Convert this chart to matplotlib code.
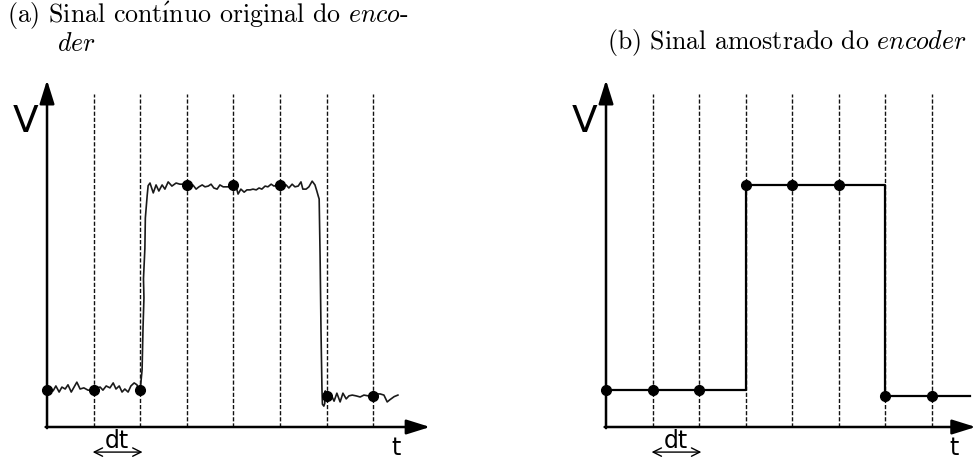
import matplotlib.pyplot as plt

plt.rcParams['mathtext.fontset'] = 'cm'

# sampling instants (in units of dt) and the sampled encoder levels
t_samples = [0, 1, 2, 3, 4, 5, 6, 7]
v_samples = [0.98, 0.98, 0.98, 6.36, 6.36, 6.36, 0.82, 0.82]
t_end = 7.83

# continuous (noisy) encoder signal
t_cont = [0.00, 0.06, 0.13, 0.19, 0.26, 0.32, 0.39, 0.45, 0.52, 0.58, 0.64, 0.71, 0.79, 0.88, 0.94, 1.00,
          1.07, 1.14, 1.20, 1.27, 1.35, 1.42, 1.48, 1.55, 1.61, 1.67, 1.74, 1.80, 1.87, 1.93, 1.97, 2.00,
          2.04, 2.06, 2.08, 2.07, 2.10, 2.11, 2.13, 2.15, 2.17, 2.21,
          2.28, 2.34, 2.40, 2.47, 2.53, 2.60, 2.68, 2.77, 2.85, 2.94, 3.00,
          3.07, 3.13, 3.20, 3.26, 3.33, 3.39, 3.46, 3.52, 3.58, 3.65, 3.71, 3.78, 3.84, 3.91, 4.00,
          4.06, 4.10, 4.16, 4.23, 4.29, 4.36, 4.42, 4.49, 4.55, 4.61, 4.68, 4.74, 4.81, 4.87, 4.94, 5.00,
          5.06, 5.13, 5.19, 5.26, 5.32, 5.39, 5.45, 5.49, 5.56, 5.62, 5.69, 5.75, 5.79, 5.82,
          5.84, 5.86, 5.88, 5.90, 5.91, 5.94, 5.96, 5.97, 6.00,
          6.09, 6.16, 6.22, 6.29, 6.35, 6.42, 6.48, 6.55, 6.63, 6.72, 6.80, 6.89, 7.00,
          7.06, 7.15, 7.23, 7.30, 7.36, 7.45, 7.53]
v_cont = [0.98, 1.05, 0.95, 1.08, 0.92, 1.05, 1.00, 1.11, 0.92, 1.05, 1.18, 1.00, 1.03, 0.97, 0.97, 0.98,
          1.03, 1.05, 0.97, 1.08, 1.03, 1.16, 1.00, 1.08, 0.92, 1.00, 0.92, 1.08, 1.16, 1.11, 0.95, 0.98,
          1.50, 2.60, 3.40, 3.90, 4.70, 5.50, 5.80, 6.10, 6.35, 6.42,
          6.16, 6.37, 6.21, 6.37, 6.26, 6.45, 6.34, 6.42, 6.39, 6.39, 6.36,
          6.26, 6.37, 6.26, 6.32, 6.37, 6.32, 6.34, 6.39, 6.29, 6.26, 6.37, 6.32, 6.32, 6.32, 6.36,
          6.32, 6.13, 6.26, 6.18, 6.24, 6.24, 6.26, 6.24, 6.29, 6.26, 6.34, 6.32, 6.39, 6.34, 6.37, 6.36,
          6.34, 6.37, 6.29, 6.39, 6.32, 6.34, 6.45, 6.26, 6.26, 6.32, 6.47, 6.37, 6.21, 6.08,
          6.00, 4.50, 2.50, 1.00, 0.60, 0.55, 0.62, 0.95, 0.84,
          0.87, 0.68, 0.89, 0.66, 0.89, 0.74, 0.82, 0.84, 0.82, 0.79, 0.84, 0.82, 0.82,
          0.87, 0.87, 0.84, 0.66, 0.72, 0.80, 0.84]

t_grid = [1, 2, 3, 4, 5, 6, 7]

fig = plt.figure(figsize=(9.77, 4.6), dpi=100)
ax1 = fig.add_axes([0, 0, 0.5, 1])
ax2 = fig.add_axes([0.5, 0, 0.5, 1])
ax1.set_xlim(-1.009, 9.474)
ax2.set_xlim(-2.527, 7.978)

axis_arrow = dict(arrowstyle='-|>,head_length=0.8,head_width=0.25', color='black',
                  lw=1.8, mutation_scale=18, shrinkA=0, shrinkB=0)
dt_arrow = dict(arrowstyle='<->,head_length=0.5,head_width=0.25', color='black',
                lw=1.0, mutation_scale=12, shrinkA=0, shrinkB=0)

for ax, x_tip in [(ax1, 8.22), (ax2, 7.95)]:
    ax.set_ylim(-0.842, 11.263)
    ax.axis('off')
    for tg in t_grid:
        ax.plot([tg, tg], [0, 8.75], color='#111111', lw=1.0, dashes=(3.0, 1.4))
    ax.annotate('', xy=(0, 9.13), xytext=(0, -0.03), arrowprops=axis_arrow)
    ax.annotate('', xy=(x_tip, 0), xytext=(-0.03, 0), arrowprops=axis_arrow)
    ax.text(-0.47, 8.05, 'V', fontsize=27, ha='center', va='center')
    ax.text(7.48, -0.52, 't', fontsize=17, ha='center', va='center')
    ax.text(1.5, -0.33, 'dt', fontsize=17, ha='center', va='center')
    ax.annotate('', xy=(0.98, -0.66), xytext=(2.05, -0.66), arrowprops=dt_arrow)
    ax.plot(t_samples, v_samples, 'o', color='black', ms=7, zorder=5)

ax1.plot(t_cont, v_cont, color='#1a1a1a', lw=1.2)
ax2.plot(t_samples + [t_end], v_samples + [v_samples[-1]], color='black', lw=1.6,
         drawstyle='steps-post')

title_font = ['cmr10', 'DejaVu Serif']
fig.text(0.007, 0.950, r'(a) Sinal cont$\mathrm{\acute{ı}}$nuo original do $\mathit{enco}$-',
         fontsize=18.6, family=title_font, va='baseline', ha='left')
fig.text(0.058, 0.889, r'$\mathit{der}$', fontsize=18.6, family=title_font, va='baseline', ha='left')
fig.text(0.621, 0.894, r'(b) Sinal amostrado do $\mathit{encoder}$', fontsize=18.6,
         family=title_font, va='baseline', ha='left')

fig.savefig('out.png', dpi=100)
